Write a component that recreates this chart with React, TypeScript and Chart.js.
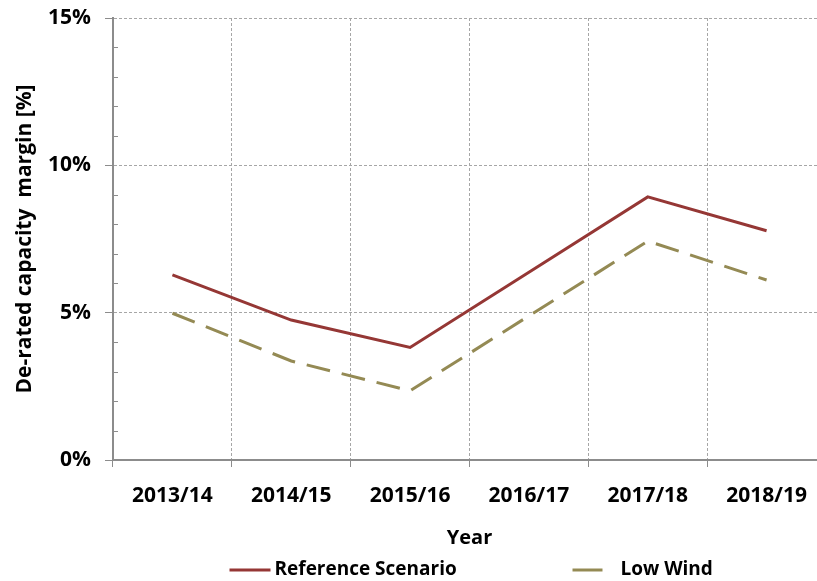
import React, { useEffect, useRef } from 'react';
import { Chart, registerables } from 'chart.js';

Chart.register(...registerables);

const categories = ['2013/14', '2014/15', '2015/16', '2016/17', '2017/18', '2018/19'];
const referenceScenario = [6.28, 4.75, 3.82, 6.37, 8.93, 7.78];
const lowWind = [4.98, 3.36, 2.35, 4.89, 7.43, 6.11];
const majorTicks = [0, 5, 10, 15];
const seriesNames = ['Reference Scenario', 'Low Wind'];
const yTitle = 'De-rated capacity  margin [%]';
const xTitle = 'Year';

const RED = '#953735';
const OLIVE = '#948A54';
const AXIS = '#8c8c8c';
const GRID = '#a6a6a6';
const FONT = '"Open Sans", Lato, sans-serif';

const decorPlugin = {
  id: 'decor',
  afterDraw(chart: any) {
    const { ctx, chartArea, scales } = chart;
    const y = scales.y;
    ctx.save();
    ctx.setLineDash([]);
    ctx.strokeStyle = AXIS;
    ctx.lineWidth = 1;
    for (let v = 0; v <= 15; v++) {
      if (majorTicks.includes(v)) continue;
      const py = Math.round(y.getPixelForValue(v)) + 0.5;
      ctx.beginPath();
      ctx.moveTo(chartArea.left, py);
      ctx.lineTo(chartArea.left + 5, py);
      ctx.stroke();
    }
    // legend
    const cx = (chartArea.left + chartArea.right) / 2;
    const ly = 570;
    ctx.font = `bold 19px ${FONT}`;
    ctx.fillStyle = '#000';
    ctx.textBaseline = 'middle';
    ctx.textAlign = 'left';
    ctx.lineWidth = 3;
    ctx.lineCap = 'butt';
    // item 1
    ctx.strokeStyle = RED;
    ctx.beginPath();
    ctx.moveTo(cx - 240, ly);
    ctx.lineTo(cx - 199, ly);
    ctx.stroke();
    ctx.fillText(seriesNames[0], cx - 195, ly);
    // item 2
    ctx.strokeStyle = OLIVE;
    ctx.beginPath();
    ctx.moveTo(cx + 103, ly);
    ctx.lineTo(cx + 133, ly);
    ctx.stroke();
    ctx.fillText(seriesNames[1], cx + 151, ly);
    ctx.restore();
  },
};

export default function App() {
  const ref = useRef<HTMLCanvasElement | null>(null);
  useEffect(() => {
    if (!ref.current) return;
    const chart = new Chart(ref.current, {
      type: 'line',
      data: {
        labels: categories,
        datasets: [
          {
            label: seriesNames[0],
            data: referenceScenario,
            borderColor: RED,
            backgroundColor: RED,
            borderWidth: 3,
            pointRadius: 0,
            tension: 0,
          },
          {
            label: seriesNames[1],
            data: lowWind,
            borderColor: OLIVE,
            backgroundColor: OLIVE,
            borderWidth: 3,
            borderDash: [24, 12],
            pointRadius: 0,
            tension: 0,
          },
        ],
      },
      options: {
        responsive: false,
        devicePixelRatio: 1,
        animation: false,
        layout: { padding: { top: 18, right: 4, bottom: 26, left: 0 } },
        plugins: {
          legend: { display: false },
          tooltip: { enabled: false },
        },
        scales: {
          x: {
            type: 'category',
            offset: true,
            grid: {
              offset: true,
              color: GRID,
              lineWidth: 1,
              tickLength: 7,
              tickColor: AXIS,
              tickWidth: 1,
            },
            border: { display: true, color: AXIS, width: 2, dash: [3, 2] },
            ticks: {
              color: '#000',
              font: { family: FONT, size: 21, weight: 'bold' },
              padding: 16,
              maxRotation: 0,
            },
            title: {
              display: true,
              text: xTitle,
              color: '#000',
              font: { family: FONT, size: 20, weight: 'bold' },
              padding: { top: 0, bottom: 5 },
            },
            afterFit(scale: any) {
              scale.height = 95;
            },
          },
          y: {
            min: 0,
            max: 15,
            ticks: {
              stepSize: 1,
              autoSkip: false,
              color: '#000',
              font: { family: FONT, size: 21, weight: 'bold' },
              padding: 14,
              callback: (v: any) => (majorTicks.includes(Number(v)) ? `${v}%` : ''),
            },
            grid: {
              color: (c: any) =>
                majorTicks.includes(c.tick?.value) && c.tick.value !== 0 ? GRID : 'rgba(0,0,0,0)',
              tickColor: (c: any) => (majorTicks.includes(c.tick?.value) ? AXIS : 'rgba(0,0,0,0)'),
              tickLength: 8,
              lineWidth: 1,
              tickWidth: 1,
            },
            border: { display: true, color: AXIS, width: 2, dash: [3, 2] },
            title: {
              display: true,
              text: yTitle,
              color: '#000',
              font: { family: FONT, size: 21, weight: 'bold' },
              padding: { top: 12, bottom: 0 },
            },
            afterFit(scale: any) {
              scale.width = 113;
              scale.paddingTop = 0;
              scale.paddingBottom = 0;
            },
          },
        },
      },
      plugins: [decorPlugin],
    } as any);
    return () => chart.destroy();
  }, []);

  return (
    <div style={{ position: 'absolute', left: 0, top: 0, width: 817, height: 581, overflow: 'hidden', background: '#fff' }}>
      <canvas ref={ref} width={830} height={581} style={{ width: 830, height: 581, display: 'block' }} />
    </div>
  );
}
